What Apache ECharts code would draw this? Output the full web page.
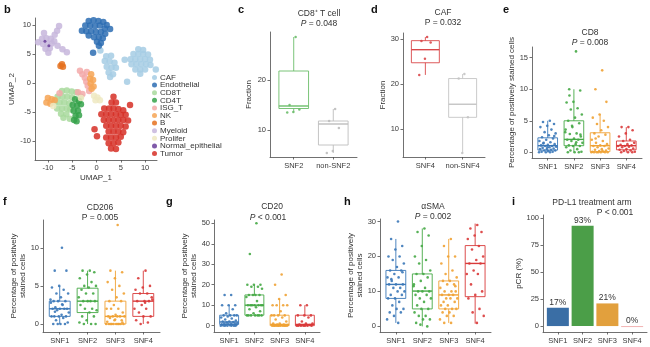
<!DOCTYPE html>
<html>
<head>
<meta charset="utf-8">
<script src="https://cdn.jsdelivr.net/npm/echarts@6/dist/echarts.min.js"></script>
<style>
  html, body { margin: 0; padding: 0; background: #fff; }
  #chart { width: 650px; height: 347px; }
</style>
</head>
<body>
<div id="chart"></div>
<script>
// ---------- b: UMAP of cell clusters ----------
const umapTicks = [-10, -5, 0, 5, 10];
const clusterNames = ['CAF', 'Endothelial', 'CD8T', 'CD4T', 'ISG_T', 'NK', 'B', 'Myeloid', 'Prolifer', 'Normal_epithelial', 'Tumor'];
const clusterColors = ['#a6cce4', '#2d6db3', '#a8d99c', '#35a24a', '#f3a9a9', '#f6a555', '#e5711f', '#c7b6dc', '#efe9c2', '#6a3d9a', '#d62f26'];

const umapCAF = [[8.6,5.8],[9.6,5.7],[7.6,5.0],[8.6,5.0],[9.6,5.0],[10.6,4.9],[7.0,4.1],[8.0,4.1],[9.0,4.1],[10.0,4.1],[11.0,4.0],[7.2,3.2],[8.2,3.2],[9.2,3.2],[10.2,3.2],[11.1,3.1],[8.0,2.3],[9.0,2.3],[10.0,2.3],[9.0,1.6],
  [2.0,4.6],[3.0,4.7],[1.7,3.8],[2.7,3.7],[3.7,3.5],[2.1,2.8],[3.1,2.6],[4.0,2.6],[2.5,1.8],[3.4,1.5],[2.8,1.0],
  [5.8,4.0],[6.3,0.2],[12.2,2.3],[0.8,5.6]];
const umapEndothelial = [[-1.6,10.7],[-0.6,10.8],[0.4,10.7],[1.4,10.5],[2.1,10.0],[-2.3,9.9],[-1.3,9.9],[-0.3,9.8],[0.7,9.9],[1.7,9.4],[-3.0,9.0],[-2.1,8.9],[-1.1,8.9],[-0.1,8.8],[0.9,8.8],[1.8,8.5],[-1.6,8.2],[-0.5,7.9],[0.5,7.9],[1.3,7.7],[0.1,7.1],[0.9,6.9],[0.5,6.4],[-0.7,5.2],[2.8,9.3]];
const umapCD8T = [[-7.1,-1.4],[-6.1,-1.3],[-5.1,-1.5],[-4.1,-1.6],[-8.0,-2.4],[-7.0,-2.4],[-6.0,-2.4],[-5.0,-2.5],[-3.2,-2.4],[-8.6,-3.4],[-7.6,-3.4],[-6.6,-3.4],[-5.6,-3.5],[-8.1,-4.4],[-7.1,-4.4],[-6.1,-4.4],[-5.4,-4.6],[-7.3,-5.3],[-6.2,-5.4],[-5.5,-6.2],[-6.8,-6.0]];
const umapCD4T = [[-4.4,-2.8],[-3.6,-3.1],[-4.9,-3.8],[-4.0,-3.9],[-3.2,-3.7],[-4.7,-4.8],[-3.8,-4.8],[-4.3,-5.7],[-3.6,-5.6],[-4.1,-6.6],[-4.6,-6.4]];
const umapISG_T = [[-3.4,2.1],[-2.9,1.5],[-2.4,0.9],[-2.1,0.2],[-1.8,-0.5],[-1.5,-1.4],[-3.8,-1.6],[-2.9,-1.9],[-7.6,-1.8],[-2.0,1.9]];
const umapNK = [[-1.1,1.5],[-1.3,0.7],[-0.7,0.5],[-1.2,-0.1],[-0.6,-0.6],[-1.0,-1.0],[-10.0,-2.6],[-9.2,-2.8],[-10.3,-3.4],[-9.5,-3.6],[-8.6,-3.0]];
const umapB = [[-7.4,2.9],[-6.9,2.8],[-7.1,3.2]];
const umapMyeloid = [[-11.2,7.6],[-10.3,7.7],[-9.4,7.6],[-11.0,6.7],[-10.1,6.7],[-9.2,6.8],[-10.5,5.9],[-9.6,6.0],[-8.6,8.3],[-8.1,9.0],[-7.7,9.8],[-10.8,8.6],[-8.7,7.2],[-8.0,6.4],[-7.0,5.8],[-6.1,5.3],[-9.9,5.2],[-12.0,7.0]];
const umapProlifer = [[-0.5,-2.2],[0.2,-2.5],[0.7,-3.0],[-0.2,-3.0],[-8.9,-4.0],[-3.2,-2.6]];
const umapNormalEpithelial = [[-10.6,7.2],[-9.8,6.4]];
const umapTumor = [[3.5,-2.4],[3.1,-3.4],[4.0,-3.4],[1.6,-4.4],[2.6,-4.4],[3.5,-4.4],[4.5,-4.5],[5.5,-4.7],[1.0,-5.4],[2.0,-5.4],[3.0,-5.4],[4.0,-5.4],[5.0,-5.5],[6.0,-5.5],[1.5,-6.4],[2.5,-6.4],[3.5,-6.4],[4.5,-6.4],[5.5,-6.4],[6.5,-6.5],[2.0,-7.4],[3.0,-7.4],[4.0,-7.4],[5.0,-7.4],[6.0,-7.5],[2.5,-8.4],[3.5,-8.4],[4.5,-8.4],[5.5,-8.5],[2.0,-9.4],[3.0,-9.4],[4.0,-9.4],[5.0,-9.3],[2.5,-10.4],[3.5,-10.4],[4.5,-10.3],[3.0,-11.3],[4.0,-11.4],[-0.4,-8.0],[0.1,-9.2],[6.9,-3.8]];
const umapClusters = [umapCAF, umapEndothelial, umapCD8T, umapCD4T, umapISG_T, umapNK, umapB, umapMyeloid, umapProlifer, umapNormalEpithelial, umapTumor];

// ---------- c: CD8+ T cell fraction ----------
const cd8tGroups = ['SNF2', 'non-SNF2'];
const cd8tBox = [[13.5, 14.3, 14.8, 21.8, 28.6], [5.4, 7.0, 11.2, 11.8, 14.2]]; // min, Q1, median, Q3, max
const cd8tPoints = [[28.6, 15.0, 14.1, 13.6, 13.5], [14.2, 11.8, 10.4, 5.8, 5.4]];
const cd8tTicks = [10, 20];

// ---------- d: CAF fraction ----------
const cafGroups = ['SNF4', 'non-SNF4'];
const cafBox = [[22.0, 24.7, 27.6, 29.6, 30.4], [4.7, 12.6, 15.5, 21.2, 22.2]];
const cafPoints = [[30.4, 29.5, 29.2, 25.6, 22.0], [22.2, 21.2, 12.6, 4.7]];
const cafTicks = [10, 20, 30];

// ---------- e-h: IHC staining by subtype ----------
const snfGroups = ['SNF1', 'SNF2', 'SNF3', 'SNF4'];

const cd8Box = [[0, 0.35, 1.05, 2.3, 5.0], [0, 1.05, 2.05, 5.0, 10], [0, 0.1, 1.05, 3.1, 6.0], [0, 0.4, 1.05, 1.8, 4.0]];
const cd8Points = [
  [5.0,4.8,4.5,4.2,4.0,3.6,3.2,3.0,2.7,2.4,2.2,2.0,1.8,1.6,1.5,1.3,1.2,1.1,1.0,1.0,0.9,0.8,0.7,0.6,0.5,0.5,0.4,0.3,0.3,0.2,0.1,0.1,0.0,0.0,0.0,1.4,2.6,0.8],
  [16,10,9.8,8.0,7.9,7.0,6.8,6.0,5.5,5.0,4.6,4.0,3.6,3.0,2.9,2.5,2.2,2.0,2.0,1.8,1.5,1.3,1.1,1.0,1.0,0.8,0.5,0.3,0.1,0,0,0,4.2,3.2,1.6,9.0,2.8],
  [13,10,8,6,5.5,5.0,4.5,4.0,3.5,3.0,2.8,2.5,2.0,1.8,1.5,1.3,1.1,1.0,1.0,0.8,0.6,0.5,0.4,0.3,0.2,0.1,0.1,0,0,0,0,0,0,0,0.2,2.2],
  [4.0,4.0,3.5,3.0,2.5,2.0,1.8,1.5,1.3,1.2,1.1,1.0,1.0,0.9,0.8,0.6,0.5,0.4,0.3,0.2,0.1,0,0,0]
];
const cd8Ticks = [0, 5, 10, 15];

const cd206Box = [[0, 1.0, 2.0, 3.0, 5.0], [0, 1.5, 3.0, 4.7, 7.0], [0, 0, 1.0, 3.0, 7.0], [0, 1.0, 3.0, 4.0, 7.0]];
const cd206Points = [
  [10,7,7,5,4.8,4.5,4,4,3.5,3,3,3,2.8,2.5,2.2,2,2,2,2,1.8,1.5,1.2,1,1,1,1,0.8,0.5,0.2,0,0,0,0,3.2,2.6,1.6],
  [7,7,6.8,6.5,6,5.5,5,5,4.8,4.5,4,4,3.5,3,3,3,3,2.5,2,2,1.8,1.5,1,1,0.5,0.2,0,0,0],
  [13,7,6.8,6,5.5,5,4.5,4,3.5,3,3,2.5,2,2,2,1.5,1.2,1,1,1,1,1,0.8,0.5,0.5,0.3,0,0,0,0,0,0,0,0,0,0,0.2,0.6],
  [7,6,5,4.8,4.5,4,4,3.5,3,3,3,2.5,2,2,1.5,1,1,0.5,0.2,0,3.2,2.8]
];
const cd206Ticks = [0, 5, 10];

const cd20Box = [[0, 0.6, 1.8, 5.1, 10], [5, 5.1, 10, 15, 20], [0, 0, 0.6, 5.1, 13], [0, 0, 0.6, 5.1, 10]];
const cd20Points = [
  [15,15,10,10,10,8,6,5,5,5,5,4.5,4,3.5,3,2.5,2,2,1.8,1.5,1.2,1,1,1,0.8,0.6,0.5,0.4,0.3,0.2,0.1,0,0,0,0,0,0],
  [50,35,20,20,20,19,19,18,15,15,15,15,14,12,10,10,10,10,10,10,10,9,8,7,6,5,5,5,5,5,5,5],
  [25,20,15,13,10,10,10,10,7,5,5,5,5,4,3,2,1,1,0.5,0.5,0.3,0.2,0,0,0,0,0,0,0,0,0,0,0],
  [10,10,5,5,5,4,2,1,1,0.5,0.3,0,0,0,0,0,0,0]
];
const cd20Ticks = [0, 10, 20, 30, 40, 50];

const smaBox = [[1, 8, 12, 16, 25], [0, 5, 10.1, 15, 28], [1, 5, 9, 13, 25], [0.8, 8.5, 18, 23.1, 29.4]];
const smaPoints = [
  [30,25,23,22,20,20,19,18,17,16,16,15,14,14,13,12,12,12,11,11,10,10,9,9,8,8,7,6,5,5,4,4,3,2,1,13.5,15.5],
  [28,27,26,23,20,19,18,16,15,15,14,13,12,11,10,10,10,9,9,8,8,7,6,5,5,4,3,3,2,2,1,0,0.5,11.5],
  [25,23,20,20,18,16,15,14,13,13,12,12,11,10,10,10,9,9,9,8,8,8,7,7,6,6,5,5,5,4,4,3,3,2,1,1,11.5],
  [29,28,27,26,25,23,22,20,19,18,18,16,15,15,12,10,9,8,5,4,3,1]
];
const smaTicks = [0, 10, 20, 30];

// ---------- i: pathological complete response ----------
const pcrValues = [17, 93, 21, 0];
const pcrTicks = [0, 25, 50, 75, 100];

// ---------- styling ----------
const FONT = "'Liberation Sans', Arial, Helvetica, sans-serif";
const AXIS_COLOR = '#4d4d4d';
const LABEL_COLOR = '#3a3a3a';
const snfColors = ['#3b78b8', '#45a845', '#f0a234', '#d93a3a'];
const barColors = ['#3a6ea5', '#4b9e48', '#e2a03d', '#f2b2b2'];
const cd8tColors = ['#6cbd6a', '#bdbdbd'];
const cafColors = ['#d9474a', '#c4c4c4'];

function valueAxis(gridIndex, min, max, ticks, extra) {
  return Object.assign({
    type: 'value', gridIndex: gridIndex, min: min, max: max,
    axisLine: { show: true, onZero: false, lineStyle: { color: AXIS_COLOR, width: 0.8 } },
    axisTick: { show: true, length: 2.5, customValues: ticks, lineStyle: { color: AXIS_COLOR, width: 0.8 } },
    axisLabel: { show: true, customValues: ticks, fontSize: 7.5, color: LABEL_COLOR, margin: 4, fontFamily: FONT },
    splitLine: { show: false }
  }, extra || {});
}

function groupAxis(gridIndex, groups) {
  const pos = groups.map((g, i) => i + 1);
  return valueAxis(gridIndex, 0.4, groups.length + 0.6, pos, {
    axisLabel: {
      show: true, customValues: pos, fontSize: 7.5, color: LABEL_COLOR, margin: 5, fontFamily: FONT,
      formatter: v => groups[Math.round(v) - 1]
    }
  });
}

function yName(name, gap) {
  return { name: name, nameLocation: 'middle', nameGap: gap, nameRotate: 90,
    nameTextStyle: { fontSize: 8, color: '#333', fontFamily: FONT, lineHeight: 8.5 } };
}

function boxSeries(axisIndex, boxes, colors) {
  return {
    type: 'custom', xAxisIndex: axisIndex, yAxisIndex: axisIndex, silent: true, z: 2,
    data: boxes.map((b, i) => [i + 1].concat(b)),
    encode: { x: 0, y: [1, 2, 3, 4, 5] },
    renderItem: function (params, api) {
      const x = api.value(0);
      const p = [1, 2, 3, 4, 5].map(d => api.coord([x, api.value(d)]));
      const half = api.size([0.75, 0])[0] / 2;
      const cx = p[0][0];
      const c = colors[params.dataIndex];
      const ls = { stroke: c, lineWidth: 0.9 };
      return {
        type: 'group',
        children: [
          { type: 'line', shape: { x1: cx, y1: p[0][1], x2: cx, y2: p[1][1] }, style: ls },
          { type: 'line', shape: { x1: cx, y1: p[3][1], x2: cx, y2: p[4][1] }, style: ls },
          { type: 'rect', shape: { x: cx - half, y: p[3][1], width: 2 * half, height: p[1][1] - p[3][1] },
            style: { stroke: c, lineWidth: 0.9, fill: 'rgba(255,255,255,0)' } },
          { type: 'line', shape: { x1: cx - half, y1: p[2][1], x2: cx + half, y2: p[2][1] }, style: { stroke: c, lineWidth: 1.4 } }
        ]
      };
    }
  };
}

// deterministic horizontal spread for overlapping points
function spreadOffset(k, spread) {
  return ((((k + 1) * 0.6180339887) % 1) - 0.5) * 2 * spread;
}

function pointSeries(axisIndex, points, colors, spread, size) {
  return points.map((vals, g) => ({
    type: 'scatter', xAxisIndex: axisIndex, yAxisIndex: axisIndex, silent: true, z: 3,
    symbolSize: size, itemStyle: { color: colors[g], opacity: 0.9 },
    data: vals.map((v, k) => [g + 1 + spreadOffset(k, spread), v])
  }));
}

// ---------- grids ----------
const grids = [
  { left: 35,  top: 18,  width: 122, height: 142 }, // b
  { left: 270, top: 32,  width: 87,  height: 125 }, // c
  { left: 403, top: 33,  width: 82,  height: 124 }, // d
  { left: 532, top: 47,  width: 110, height: 111 }, // e
  { left: 43,  top: 220, width: 117, height: 112 }, // f
  { left: 214, top: 220, width: 106, height: 112 }, // g
  { left: 380, top: 219, width: 111, height: 113 }, // h
  { left: 543, top: 215, width: 104, height: 117 }  // i
];

const xAxes = [
  valueAxis(0, -12.65, 12.45, umapTicks, { name: 'UMAP_1', nameLocation: 'middle', nameGap: 14,
    nameTextStyle: { fontSize: 8, color: '#333', fontFamily: FONT } }),
  groupAxis(1, cd8tGroups),
  groupAxis(2, cafGroups),
  groupAxis(3, snfGroups),
  groupAxis(4, snfGroups),
  groupAxis(5, snfGroups),
  groupAxis(6, snfGroups),
  groupAxis(7, snfGroups)
];

const yAxes = [
  valueAxis(0, -13.3, 11.2, umapTicks, yName('UMAP_2', 16)),
  valueAxis(1, 4.6, 29.6, cd8tTicks, yName('Fraction', 17)),
  valueAxis(2, 3.8, 31.3, cafTicks, yName('Fraction', 15)),
  valueAxis(3, -0.9, 16.7, cd8Ticks, yName('Percentage of positively stained cells', 12)),
  valueAxis(4, -1.05, 13.65, cd206Ticks, yName('Percentage of positively\nstained cells', 11)),
  valueAxis(5, -3.1, 51.6, cd20Ticks, yName('Percentage of positively\nstained cells', 15)),
  valueAxis(6, -1.6, 30.7, smaTicks, yName('Percentage of positively\nstained cells', 14)),
  valueAxis(7, -5.5, 103, pcrTicks, yName('pCR (%)', 16))
];

// ---------- series ----------
const series = [];
umapClusters.forEach((pts, i) => {
  series.push({
    type: 'scatter', name: clusterNames[i], xAxisIndex: 0, yAxisIndex: 0, silent: true,
    symbolSize: i === 9 ? 3 : 6.5,
    itemStyle: { color: clusterColors[i], opacity: 0.85 },
    data: pts
  });
});

series.push(boxSeries(1, cd8tBox, cd8tColors));
series.push(...pointSeries(1, cd8tPoints, cd8tColors, 0.2, 2.5));
series.push(boxSeries(2, cafBox, cafColors));
series.push(...pointSeries(2, cafPoints, cafColors, 0.2, 2.5));

[[3, cd8Box, cd8Points], [4, cd206Box, cd206Points], [5, cd20Box, cd20Points], [6, smaBox, smaPoints]]
  .forEach(([ax, box, pts]) => {
    series.push(boxSeries(ax, box, snfColors));
    series.push(...pointSeries(ax, pts, snfColors, 0.34, 2.6));
  });

series.push({
  type: 'bar', xAxisIndex: 7, yAxisIndex: 7, silent: true, barWidth: 22, barMinHeight: 1,
  data: pcrValues.map((v, i) => ({ value: [i + 1, v], itemStyle: { color: barColors[i] } })),
  label: { show: true, position: 'top', distance: 1, fontSize: 8.5, color: '#333', fontFamily: FONT,
    formatter: p => p.value[1] + '%' }
});

// ---------- text ----------
function letter(t, x, y) {
  return { type: 'text', x: x, y: y, silent: true,
    style: { text: t, font: 'bold 11px ' + FONT, fill: '#111' } };
}
function caption(t, x, y, size) {
  const s = size || 8.5;
  return { type: 'text', x: x, y: y, silent: true,
    style: { text: t, font: s + 'px ' + FONT, fill: '#333', align: 'center', verticalAlign: 'middle',
      rich: { i: { fontStyle: 'italic', fontSize: s, fontFamily: FONT, fill: '#333' } } } };
}

const graphics = [
  letter('b', 4, 4), letter('c', 238, 4), letter('d', 371, 4), letter('e', 503, 4),
  letter('f', 3, 196), letter('g', 166, 196), letter('h', 344, 196), letter('i', 512, 196),
  caption('CD8\u207A T cell', 319, 14), caption('{i|P} = 0.048', 319, 24),
  caption('CAF', 443, 13), caption('P = 0.032', 443, 23),
  caption('CD8', 590, 33), caption('{i|P} = 0.008', 590, 43),
  caption('CD206', 100, 208), caption('P = 0.005', 100, 218),
  caption('CD20', 272, 207), caption('{i|P} < 0.001', 268, 218),
  caption('\u03B1SMA', 433, 207), caption('{i|P} = 0.002', 433, 217),
  caption('PD-L1 treatment arm', 592, 203), caption('P < 0.001', 615, 213)
];

const chart = echarts.init(document.getElementById('chart'), null, { renderer: 'canvas' });
chart.setOption({
  animation: false,
  backgroundColor: '#ffffff',
  textStyle: { fontFamily: FONT },
  grid: grids,
  xAxis: xAxes,
  yAxis: yAxes,
  legend: {
    show: true, orient: 'vertical', left: 152, top: 73.5, padding: 0,
    itemWidth: 5, itemHeight: 5, itemGap: -0.4, icon: 'circle', selectedMode: false,
    textStyle: { fontSize: 8, color: '#333', lineHeight: 6.8, fontFamily: FONT, padding: [0, 0, 0, -2] },
    data: clusterNames
  },
  graphic: graphics,
  series: series
});
</script>
</body>
</html>
